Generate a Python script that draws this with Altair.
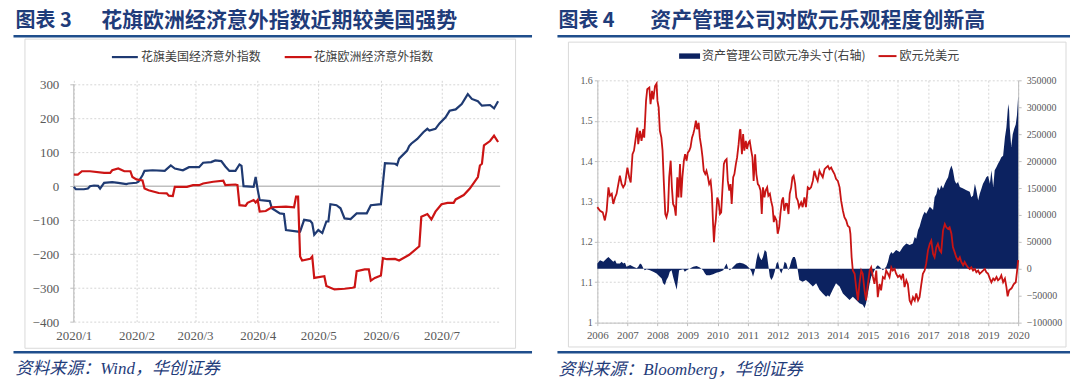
import altair as alt
import pandas as pd

# ---------------- Left chart data: Citi Economic Surprise Index ----------------
us_dates = ["2020-01-01","2020-01-02","2020-01-06","2020-01-08","2020-01-09","2020-01-11","2020-01-13","2020-01-14",
            "2020-01-16","2020-01-20","2020-01-23","2020-01-27","2020-01-28","2020-02-01","2020-02-02","2020-02-04",
            "2020-02-05","2020-02-09","2020-02-15","2020-02-18","2020-02-20","2020-02-24","2020-02-27","2020-03-03",
            "2020-03-05","2020-03-09","2020-03-11","2020-03-14","2020-03-16","2020-03-18","2020-03-21","2020-03-23",
            "2020-03-24","2020-03-25","2020-03-30","2020-03-31","2020-04-01","2020-04-02","2020-04-07","2020-04-08",
            "2020-04-12","2020-04-14","2020-04-15","2020-04-21","2020-04-22","2020-04-24","2020-04-27","2020-04-28",
            "2020-04-29","2020-05-01","2020-05-03","2020-05-05","2020-05-06","2020-05-07","2020-05-10","2020-05-12",
            "2020-05-14","2020-05-17","2020-05-20","2020-05-25","2020-05-27","2020-06-01","2020-06-02","2020-06-03",
            "2020-06-08","2020-06-09","2020-06-10","2020-06-14","2020-06-15","2020-06-16","2020-06-19","2020-06-22",
            "2020-06-24","2020-06-25","2020-06-28","2020-06-30","2020-07-03","2020-07-05","2020-07-08","2020-07-11",
            "2020-07-14","2020-07-16","2020-07-19","2020-07-21","2020-07-25","2020-07-27","2020-07-29"]
us_vals = [-2,-9,-9,-7,0,2,1,-7,
           10,12,10,6,8,10,13,32,
           45,47,45,61,52,47,56,56,
           69,71,76,74,58,45,45,64,
           60,0,-2,27,-10,-41,-44,-65,
           -80,-82,-129,-134,-134,-99,-102,-109,
           -143,-129,-138,-104,-104,-53,-56,-65,
           -95,-97,-80,-80,-56,-53,8,68,
           66,62,81,105,118,125,139,159,
           169,164,169,185,203,222,226,242,
           271,257,250,237,239,229,250]

eu_dates = ["2020-01-01","2020-01-03","2020-01-05","2020-01-09","2020-01-16","2020-01-19","2020-01-20","2020-01-23",
            "2020-01-26","2020-01-29","2020-01-30","2020-02-01","2020-02-04","2020-02-05","2020-02-07","2020-02-12",
            "2020-02-16","2020-02-17","2020-02-19","2020-02-20","2020-02-26","2020-02-29","2020-03-03","2020-03-05",
            "2020-03-10","2020-03-15","2020-03-16","2020-03-21","2020-03-22","2020-03-23","2020-03-26","2020-03-27",
            "2020-03-30","2020-03-31","2020-04-01","2020-04-02","2020-04-05","2020-04-08","2020-04-15","2020-04-19",
            "2020-04-20","2020-04-21","2020-04-22","2020-04-23","2020-04-27","2020-04-28","2020-04-29","2020-05-04",
            "2020-05-05","2020-05-09","2020-05-14","2020-05-18","2020-05-19","2020-05-20","2020-05-24","2020-05-26",
            "2020-05-27","2020-05-29","2020-06-01","2020-06-02","2020-06-04","2020-06-08","2020-06-10","2020-06-15",
            "2020-06-20","2020-06-21","2020-06-24","2020-06-26","2020-06-28","2020-07-01","2020-07-04","2020-07-07",
            "2020-07-08","2020-07-12","2020-07-15","2020-07-19","2020-07-20","2020-07-21","2020-07-22","2020-07-25",
            "2020-07-27","2020-07-29"]
eu_vals = [34,34,44,44,39,39,47,52,
           44,44,27,20,17,-7,-12,-20,
           -21,-28,-29,-2,-2,3,3,8,
           13,16,3,5,3,-56,-58,-49,
           -41,-48,-41,-75,-73,-62,-60,-62,
           -31,-31,-207,-219,-214,-207,-270,-265,
           -294,-304,-302,-299,-297,-250,-245,-245,
           -278,-270,-263,-212,-215,-214,-219,-202,
           -177,-90,-82,-98,-75,-53,-49,-49,
           -39,-26,-7,27,61,66,120,133,
           149,130]

left_ticks = [-400, -300, -200, -100, 0, 100, 200, 300]

# ---------------- Right chart data: EUR/USD and asset-manager EUR net position ----------------
eur_years = [2006.00,2006.09,2006.18,2006.25,2006.31,2006.37,2006.42,2006.48,2006.53,2006.59,2006.64,2006.75,
             2006.81,2006.86,2006.92,2007.00,2007.06,2007.11,2007.17,2007.22,2007.28,2007.33,2007.36,2007.42,
             2007.47,2007.53,2007.56,2007.62,2007.66,2007.73,2007.77,2007.82,2007.86,2007.92,2007.97,2008.00,
             2008.04,2008.08,2008.13,2008.17,2008.21,2008.26,2008.30,2008.35,2008.39,2008.44,2008.48,2008.52,
             2008.57,2008.61,2008.66,2008.70,2008.75,2008.79,2008.83,2008.88,2008.92,2008.97,2009.01,2009.06,
             2009.10,2009.15,2009.19,2009.23,2009.28,2009.32,2009.37,2009.41,2009.46,2009.50,2009.54,2009.59,
             2009.63,2009.68,2009.72,2009.77,2009.81,2009.85,2009.88,2009.91,2009.94,2009.99,2010.03,2010.08,
             2010.12,2010.16,2010.21,2010.25,2010.30,2010.34,2010.39,2010.43,2010.47,2010.52,2010.56,2010.61,
             2010.65,2010.70,2010.74,2010.76,2010.81,2010.85,2010.89,2010.94,2010.98,2011.03,2011.07,2011.12,
             2011.16,2011.20,2011.25,2011.29,2011.34,2011.38,2011.43,2011.47,2011.51,2011.56,2011.60,2011.65,
             2011.69,2011.74,2011.78,2011.83,2011.87,2011.91,2011.96,2012.00,2012.05,2012.09,2012.14,2012.18,
             2012.22,2012.27,2012.31,2012.36,2012.40,2012.45,2012.49,2012.53,2012.58,2012.62,2012.67,2012.71,
             2012.78,2012.83,2012.89,2012.94,2013.00,2013.06,2013.11,2013.17,2013.22,2013.28,2013.33,2013.39,
             2013.44,2013.50,2013.56,2013.61,2013.67,2013.72,2013.78,2013.83,2013.89,2013.94,2014.00,2014.06,
             2014.11,2014.17,2014.22,2014.28,2014.33,2014.39,2014.42,2014.46,2014.50,2014.56,2014.61,2014.67,
             2014.72,2014.78,2014.83,2014.89,2014.94,2015.00,2015.06,2015.11,2015.17,2015.22,2015.28,2015.33,
             2015.39,2015.44,2015.50,2015.56,2015.61,2015.67,2015.72,2015.78,2015.83,2015.89,2015.94,2016.00,
             2016.06,2016.11,2016.17,2016.22,2016.28,2016.33,2016.39,2016.44,2016.50,2016.56,2016.61,2016.67,
             2016.72,2016.78,2016.83,2016.89,2016.94,2017.00,2017.06,2017.11,2017.17,2017.22,2017.28,2017.33,
             2017.39,2017.44,2017.50,2017.56,2017.61,2017.67,2017.72,2017.78,2017.83,2017.89,2017.94,2018.00,
             2018.06,2018.11,2018.17,2018.22,2018.28,2018.33,2018.39,2018.44,2018.50,2018.56,2018.61,2018.67,
             2018.72,2018.78,2018.83,2018.89,2018.94,2019.00,2019.06,2019.11,2019.17,2019.22,2019.28,2019.33,
             2019.39,2019.44,2019.50,2019.56,2019.61,2019.65,2019.70,2019.78,2019.85,2019.92,2019.96,2020.00]
eur_vals = [1.286,1.277,1.273,1.253,1.277,1.335,1.314,1.319,1.294,1.310,1.319,1.364,
            1.343,1.335,1.343,1.384,1.360,1.347,1.417,1.426,1.458,1.483,1.442,1.475,
            1.450,1.479,1.458,1.549,1.578,1.582,1.541,1.574,1.553,1.586,1.592,1.549,
            1.533,1.475,1.458,1.426,1.351,1.269,1.261,1.277,1.360,1.401,1.335,1.294,
            1.286,1.265,1.360,1.310,1.393,1.310,1.360,1.401,1.417,1.401,1.421,1.426,
            1.434,1.458,1.467,1.479,1.500,1.479,1.495,1.458,1.434,1.409,1.376,1.368,
            1.376,1.360,1.343,1.351,1.319,1.244,1.199,1.236,1.253,1.310,1.302,1.269,
            1.273,1.327,1.393,1.401,1.405,1.351,1.327,1.343,1.294,1.360,1.368,1.393,
            1.409,1.442,1.475,1.479,1.417,1.467,1.426,1.450,1.430,1.446,1.450,1.426,
            1.409,1.351,1.417,1.368,1.343,1.339,1.327,1.269,1.335,1.310,1.327,1.335,
            1.314,1.319,1.302,1.286,1.249,1.261,1.253,1.220,1.236,1.269,1.302,1.310,
            1.277,1.294,1.294,1.269,1.319,1.335,1.360,1.364,1.343,1.310,1.302,1.286,
            1.298,1.286,1.310,1.286,1.335,1.331,1.335,1.351,1.376,1.360,1.351,1.376,
            1.368,1.360,1.380,1.384,1.388,1.380,1.384,1.376,1.368,1.356,1.351,1.335,
            1.302,1.277,1.261,1.253,1.240,1.236,1.220,1.162,1.129,1.121,1.088,1.055,
            1.096,1.129,1.121,1.080,1.055,1.096,1.129,1.137,1.113,1.096,1.129,1.063,
            1.096,1.080,1.113,1.109,1.129,1.121,1.113,1.137,1.129,1.133,1.121,1.113,
            1.117,1.109,1.121,1.088,1.105,1.096,1.055,1.047,1.063,1.055,1.072,1.055,
            1.063,1.096,1.121,1.129,1.146,1.179,1.195,1.203,1.170,1.162,1.187,1.195,
            1.179,1.174,1.228,1.244,1.236,1.232,1.236,1.220,1.187,1.174,1.162,1.154,
            1.162,1.150,1.142,1.150,1.142,1.137,1.133,1.137,1.129,1.133,1.125,1.129,
            1.121,1.125,1.129,1.133,1.125,1.121,1.109,1.100,1.109,1.105,1.113,1.105,
            1.109,1.117,1.100,1.109,1.088,1.065,1.080,1.085,1.095,1.100,1.125,1.155]

pos_years = [2006.00,2006.09,2006.20,2006.31,2006.37,2006.42,2006.53,2006.59,2006.64,2006.75,2006.81,2006.86,
             2006.92,2006.97,2007.09,2007.20,2007.31,2007.36,2007.42,2007.47,2007.53,2007.58,2007.64,2007.75,
             2007.86,2007.97,2008.08,2008.14,2008.19,2008.25,2008.30,2008.36,2008.41,2008.47,2008.52,2008.58,
             2008.64,2008.68,2008.72,2008.86,2008.91,2008.97,2009.08,2009.19,2009.30,2009.41,2009.52,2009.58,
             2009.63,2009.74,2009.85,2009.96,2010.08,2010.19,2010.24,2010.30,2010.35,2010.41,2010.52,2010.63,
             2010.74,2010.85,2010.96,2011.07,2011.13,2011.18,2011.24,2011.29,2011.35,2011.40,2011.46,2011.51,
             2011.57,2011.63,2011.68,2011.74,2011.79,2011.85,2011.90,2011.96,2012.01,2012.07,2012.12,2012.18,
             2012.23,2012.29,2012.35,2012.40,2012.46,2012.51,2012.57,2012.61,2012.67,2012.72,2012.83,2012.94,
             2013.06,2013.17,2013.28,2013.39,2013.50,2013.61,2013.67,2013.72,2013.83,2013.94,2014.06,2014.17,
             2014.28,2014.39,2014.50,2014.61,2014.72,2014.83,2014.89,2014.94,2015.00,2015.06,2015.11,2015.17,
             2015.22,2015.28,2015.33,2015.39,2015.50,2015.61,2015.67,2015.72,2015.78,2015.83,2015.94,2016.06,
             2016.17,2016.28,2016.39,2016.50,2016.56,2016.61,2016.67,2016.72,2016.78,2016.83,2016.89,2016.94,
             2017.06,2017.17,2017.22,2017.28,2017.33,2017.39,2017.44,2017.50,2017.56,2017.61,2017.67,2017.72,
             2017.78,2017.83,2017.89,2017.94,2018.00,2018.06,2018.17,2018.28,2018.39,2018.44,2018.50,2018.56,
             2018.61,2018.67,2018.72,2018.78,2018.83,2018.89,2018.94,2019.00,2019.06,2019.11,2019.17,2019.22,
             2019.28,2019.33,2019.39,2019.44,2019.50,2019.56,2019.61,2019.67,2019.70,2019.72,2019.77,2019.82,
             2019.87,2019.92,2019.96,2020.00]
pos_vals = [10000,16000,13000,19000,22000,19000,13000,16000,10000,10000,13000,10000,
            11000,4000,7000,4000,1000,4000,10000,8000,1000,-2500,-1000,-2500,
            -5600,-8600,-15000,-18000,-27000,-30000,-21000,-15000,-5600,-2500,-15000,-27000,
            -39000,-21000,-2500,-1000,-5600,-2500,600,3700,5000,2500,-2500,-8600,
            -12000,-12000,-10000,-7400,-5600,-2500,3700,10000,600,-2500,3700,10000,
            11000,10000,6800,600,-5600,-15000,-2500,16000,31000,22000,16000,22000,
            35000,31000,10000,-15000,-21000,-15000,-5600,10000,13000,-2500,-8600,600,
            13000,10000,-2500,3700,16000,22000,22000,16000,-2500,-21000,-24000,-21000,
            -27000,-33000,-27000,-39000,-46000,-52000,-49000,-52000,-39000,-27000,-33000,-46000,
            -52000,-58000,-52000,-58000,-64000,-67000,-73000,-64000,-46000,-27000,-15000,-8600,
            -2500,3700,6800,3700,-2500,3700,13000,25000,31000,28000,35000,31000,
            41000,47000,44000,47000,59000,56000,72000,78000,90000,99000,106000,102000,
            115000,109000,133000,139000,152000,146000,155000,149000,158000,164000,170000,183000,
            192000,183000,164000,158000,161000,152000,149000,146000,143000,133000,136000,158000,
            146000,127000,139000,149000,158000,164000,170000,173000,158000,183000,152000,183000,
            189000,195000,201000,207000,210000,244000,263000,306000,294000,263000,226000,250000,
            260000,268000,285000,320000]

right_years = list(range(2006, 2021))
eur_ticks = [1.0, 1.1, 1.2, 1.3, 1.4, 1.5, 1.6]
pos_ticks = [-100000, -50000, 0, 50000, 100000, 150000, 200000, 250000, 300000, 350000]

# ---------------- Styles ----------------
CJK = "Noto Sans CJK SC"
SERIF = "Liberation Serif"
TITLE_C = "#1F3C7A"
RULE_C = "#1F4E8C"
NAVY = "#1F3A72"
RED = "#CC1414"
AREA = "#0C2260"
RED2 = "#C81414"
GRID = "#D6D6D6"
AXC = "#BFBFBF"
LAB = "#595959"
LEG = "#404040"

dummy = pd.DataFrame({"k": [0]})


def text(x, y, s, size, color, weight="normal", style="normal", font=CJK):
    return alt.Chart(dummy).mark_text(
        text=s, fontSize=size, color=color, fontWeight=weight, fontStyle=style,
        font=font, align="left", baseline="middle"
    ).encode(x=alt.value(x), y=alt.value(y))


def hrule(x1, x2, y, color, width):
    return alt.Chart(dummy).mark_rule(color=color, strokeWidth=width).encode(
        x=alt.value(x1), x2=alt.value(x2), y=alt.value(y))


def box(x1, x2, y1, y2):
    return alt.Chart(dummy).mark_rect(fillOpacity=0, stroke="#D9D9D9", strokeWidth=1).encode(
        x=alt.value(x1), x2=alt.value(x2), y=alt.value(y1), y2=alt.value(y2))


TY = -59.8  # title centre, relative to plot top

# ---------------- Left panel ----------------
LW, LH = 427.5, 242.4
us_df = pd.DataFrame({"date": us_dates, "v": us_vals})
eu_df = pd.DataFrame({"date": eu_dates, "v": eu_vals})

x_left = alt.X(
    "date:T",
    scale=alt.Scale(type="utc", domain=[alt.DateTime(year=2020, month=1, date=1, utc=True),
                                        alt.DateTime(year=2020, month=7, date=30, utc=True)]),
    axis=alt.Axis(values=[alt.DateTime(year=2020, month=m, date=1, utc=True) for m in range(1, 8)],
                  labelExpr="utcFormat(datum.value, '%Y/%-m')", title=None, domain=False, ticks=False,
                  grid=True, gridColor=GRID, gridDash=[2, 2], labelFont=SERIF, labelFontSize=13,
                  labelColor=LAB, labelPadding=8, labelFlush=False, labelOverlap=False))
left_yscale = alt.Scale(domain=[-400, 311.74], nice=False, zero=False)
left_yaxis = alt.Axis(values=left_ticks, title=None, domain=False, ticks=True, tickSize=4, tickColor=AXC,
                      grid=True, gridColor=GRID, gridDash=[2, 2], labelFont=SERIF, labelFontSize=13,
                      labelColor=LAB, labelPadding=11, labelOverlap=False, labelBound=False)
y_left = alt.Y("v:Q", scale=left_yscale, axis=left_yaxis)

us_line = alt.Chart(us_df).mark_line(color=NAVY, strokeWidth=2.2).encode(x=x_left, y=y_left)
eu_line = alt.Chart(eu_df).mark_line(color=RED, strokeWidth=2.2).encode(x=x_left, y=y_left)
left_zero = alt.Chart(dummy).mark_rule(color=AXC, strokeWidth=1.5).encode(
    y=alt.YDatum(0, scale=left_yscale, axis=left_yaxis))
left_yline = alt.Chart(dummy).mark_rule(color=AXC, strokeWidth=1.2).encode(
    x=alt.value(0), y=alt.YDatum(300, scale=left_yscale, axis=left_yaxis), y2=alt.Y2Datum(-400))

left = alt.layer(
    box(-49, 443, -41.3, 268.7),
    left_zero, left_yline, us_line, eu_line,
    text(-58.5, TY, "图表 3", 20, TITLE_C, weight="bold"),
    text(27.5, TY, "花旗欧洲经济意外指数近期较美国强势", 21, TITLE_C, weight="bold"),
    hrule(-60.5, 459.5, -44.3, RULE_C, 2.5),
    hrule(38.2, 64.2, -23.3, NAVY, 2.2),
    text(67.5, -23.3, "花旗美国经济意外指数", 12, LEG),
    hrule(211.5, 238.5, -23.3, RED, 2.2),
    text(240.5, -23.3, "花旗欧洲经济意外指数", 12, LEG),
    hrule(-60.5, 459.5, 272.7, RULE_C, 2.5),
    text(-58.5, 289.7, "资料来源：Wind，华创证券", 17, TITLE_C, style="italic", font=SERIF + ", " + CJK),
).properties(width=LW, height=LH)

# ---------------- Right panel ----------------
RW, RH = 422, 243
eur_df = pd.DataFrame({"year": eur_years, "eur": eur_vals})
pos_df = pd.DataFrame({"year": pos_years, "pos": pos_vals})


def x_right():
    return alt.X(
        "year:Q", scale=alt.Scale(domain=[2006, 2020], nice=False, zero=False),
        axis=alt.Axis(values=right_years, format="d", title=None, domain=True, domainColor=AXC,
                      ticks=True, tickSize=3, tickColor=AXC, grid=True, gridColor=GRID, gridDash=[2, 2],
                      labelFont=SERIF, labelFontSize=11, labelColor=LAB, labelPadding=4,
                      labelFlush=False, labelOverlap=False))


pos_area = alt.Chart(pos_df).mark_area(color=AREA).encode(
    x=x_right(),
    y=alt.Y("pos:Q", scale=alt.Scale(domain=[-100000, 350000], nice=False),
            axis=alt.Axis(orient="right", values=pos_ticks, format="d", title=None, domainColor=AXC,
                          tickSize=3, tickColor=AXC, grid=False, labelFont=SERIF, labelFontSize=10,
                          labelColor=LAB, labelPadding=5, labelOverlap=False)))
eur_line = alt.Chart(eur_df).mark_line(color=RED2, strokeWidth=1.8).encode(
    x=x_right(),
    y=alt.Y("eur:Q", scale=alt.Scale(domain=[1.0, 1.6], nice=False, zero=False),
            axis=alt.Axis(orient="left", values=eur_ticks,
                          labelExpr="datum.value == 1 ? '1' : format(datum.value, '.1f')",
                          title=None, domainColor=AXC, tickSize=3, tickColor=AXC, grid=True,
                          gridColor=GRID, gridDash=[2, 2], labelFont=SERIF, labelFontSize=10,
                          labelColor=LAB, labelPadding=2, labelOverlap=False)))

right = alt.layer(
    box(-29, 470, -38.3, 267.4),
    pos_area, eur_line,
    text(-39, TY, "图表 4", 20, TITLE_C, weight="bold"),
    text(53, TY, "资产管理公司对欧元乐观程度创新高", 21, TITLE_C, weight="bold"),
    hrule(-40, 474, -44.3, RULE_C, 2.5),
    alt.Chart(dummy).mark_rect(color=AREA).encode(
        x=alt.value(82), x2=alt.value(103), y=alt.value(-27), y2=alt.value(-21.6)),
    text(105, -24.3, "资产管理公司欧元净头寸(右轴)", 12, LEG),
    hrule(282, 300, -24.3, RED2, 2),
    text(303, -24.3, "欧元兑美元", 12, LEG),
    hrule(-40, 474, 272.7, RULE_C, 2.5),
    text(-39, 290.7, "资料来源：Bloomberg，华创证券", 17, TITLE_C, style="italic", font=SERIF + ", " + CJK),
).resolve_scale(y="independent").properties(width=RW, height=RH)

chart = alt.hconcat(left, right, spacing=97, bounds="flush").properties(
    padding={"left": 4, "top": 1, "right": 0, "bottom": 0},
    background="white",
).configure_view(strokeWidth=0)

chart.save("out.html", embed_options={"renderer": "svg", "actions": False})
